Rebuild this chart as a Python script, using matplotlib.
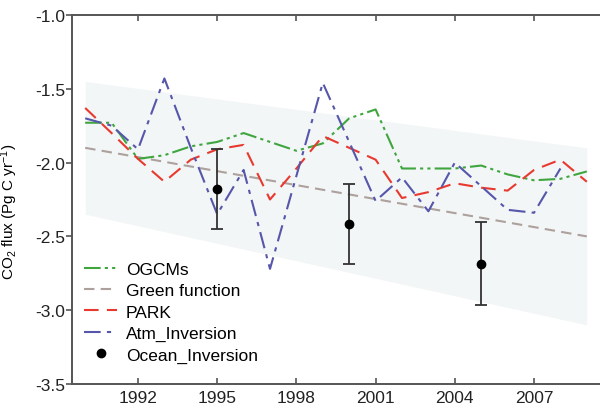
import numpy as np
import matplotlib
matplotlib.use("Agg")
import matplotlib.pyplot as plt

plt.rcParams['font.family'] = ['Liberation Sans', 'DejaVu Sans']
plt.rcParams['mathtext.fontset'] = 'custom'
plt.rcParams['mathtext.rm'] = 'Liberation Sans'
plt.rcParams['mathtext.it'] = 'Liberation Sans:italic'

# annual ocean CO2 flux estimates (Pg C / yr)
years = np.arange(1990, 2010)
ogcms = [-1.73, -1.73, -1.975, -1.95, -1.89, -1.86, -1.80, -1.86, -1.92, -1.87,
         -1.70, -1.64, -2.04, -2.04, -2.04, -2.02, -2.08, -2.12, -2.11, -2.06]
park = [-1.63, -1.80, -1.975, -2.13, -1.98, -1.91, -1.88, -2.25, -2.04, -1.82,
        -1.90, -1.98, -2.24, -2.20, -2.14, -2.17, -2.19, -2.05, -1.98, -2.13]
atm_years = np.arange(1990, 2009)
atm_inv = [-1.70, -1.75, -1.91, -1.43, -1.90, -2.35, -2.05, -2.72, -2.09, -1.46,
           -1.86, -2.26, -2.10, -2.33, -2.00, -2.16, -2.32, -2.34, -2.04]

# Green function trend and its uncertainty band (end points)
green_years = [1990, 2009]
green_fn = [-1.90, -2.50]
band_upper = [-1.45, -1.90]
band_lower = [-2.35, -3.10]

# ocean inversion estimates with error bars
ocean_years = [1995, 2000, 2005]
ocean_inv = [-2.18, -2.415, -2.685]
ocean_err = [0.27, 0.27, 0.28]

fig = plt.figure(figsize=(6, 4.1), dpi=100)
ax = fig.add_axes([0.12, 0.061, 0.88, 0.9])

ax.fill_between(green_years, band_lower, band_upper, color='#f3f6f7', lw=0, zorder=0)

ax.plot(years, ogcms, color='#3fa63f', lw=1.5, dashes=(8, 2, 1.5, 2, 1.5, 2),
        label='OGCMs', zorder=3)
ax.plot(green_years, green_fn, color='#aca19d', lw=1.5, dashes=(5, 3),
        label='Green function', zorder=2)
ax.plot(years, park, color='#e8392f', lw=1.5, dashes=(7, 4),
        label='PARK', zorder=4)
ax.plot(atm_years, atm_inv, color='#5656aa', lw=1.5, dashes=(8, 3, 2, 3),
        label='Atm_Inversion', zorder=5)
ax.errorbar(ocean_years, ocean_inv, yerr=ocean_err, fmt='none',
            ecolor='#333333', elinewidth=1.3, capsize=4, capthick=1.3, zorder=6)
ax.plot(ocean_years, ocean_inv, 'o', color='black', ms=6,
        label='Ocean_Inversion', zorder=7)

ax.set_xlim(1989.5, 2009.5)
ax.set_ylim(-3.5, -1.0)
ax.set_xticks([1992, 1995, 1998, 2001, 2004, 2007])
ax.set_yticks([-3.5, -3.0, -2.5, -2.0, -1.5, -1.0])
ax.set_yticklabels(['-3.5', '-3.0', '-2.5', '-2.0', '-1.5', '-1.0'])
ax.set_ylabel(r'CO$_2$ flux (Pg C yr$^{-1}$)', fontsize=11)
ax.yaxis.set_label_coords(-0.098, 0.47)

for side in ['left', 'bottom', 'top']:
    ax.spines[side].set_color('#555555')
    ax.spines[side].set_linewidth(1.4)
ax.spines['right'].set_visible(False)
ax.tick_params(axis='y', direction='out', length=4, width=1.2, color='#555555',
               labelsize=12.5, labelcolor='#222222', pad=1)
ax.tick_params(axis='x', direction='in', length=4, width=1.2, color='#555555',
               labelsize=12.5, labelcolor='#222222', top=True, pad=4)

ax.legend(loc='lower left', bbox_to_anchor=(0.0, 0.025), frameon=False,
          fontsize=12.5, handlelength=1.9, handletextpad=0.5, labelspacing=0.36,
          borderaxespad=0.3)

fig.savefig("out.png", dpi=100)
